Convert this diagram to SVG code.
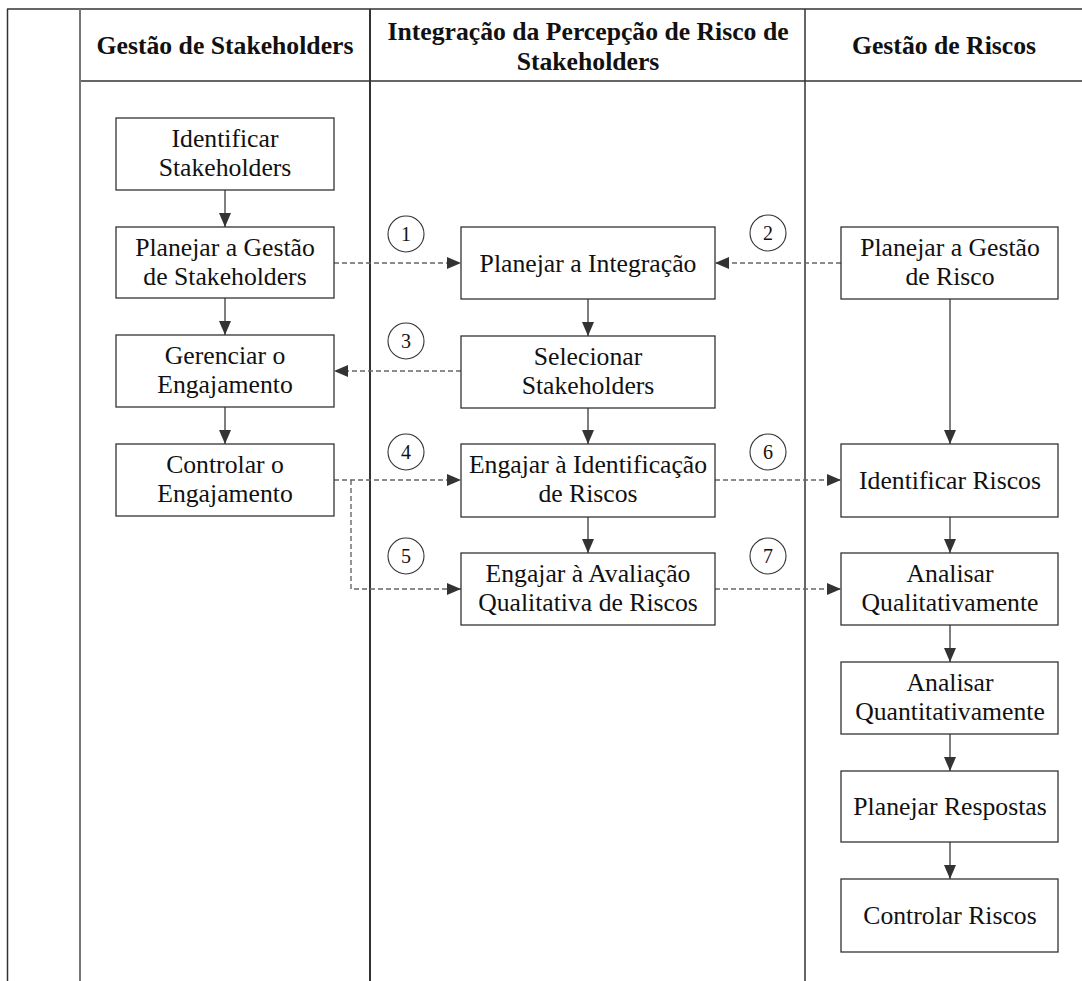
<svg xmlns="http://www.w3.org/2000/svg" width="1082" height="981" viewBox="0 0 1082 981">
<defs>
<marker id="ah" viewBox="0 0 14 12" refX="14" refY="6" markerWidth="14" markerHeight="12" markerUnits="userSpaceOnUse" orient="auto"><path d="M0,0 L14,6 L0,12 z" fill="#333"/></marker>
<style>
.box{fill:#fff;stroke:#333;stroke-width:1.3}
.t{font-family:'Times New Roman','Liberation Serif','DejaVu Serif',serif;font-size:25.7px;fill:#111;text-anchor:middle}
.h{font-family:'Times New Roman','Liberation Serif','DejaVu Serif',serif;font-size:25.7px;font-weight:bold;fill:#111;text-anchor:middle}
.n{font-family:'Times New Roman','Liberation Serif','DejaVu Serif',serif;font-size:20px;fill:#111;text-anchor:middle}
.c{fill:#fff;stroke:#333;stroke-width:1.1}
.solid{fill:none;stroke:#555;stroke-width:1.5}
.dash{fill:none;stroke:#666;stroke-width:1.4;stroke-dasharray:5,3}
</style>
</defs>
<rect width="1082" height="981" fill="#fff"/>
<g id="lanes">
<line x1="7" y1="9" x2="1082" y2="9" stroke="#333" stroke-width="1.5"/>
<line x1="80" y1="81" x2="1082" y2="81" stroke="#333" stroke-width="1.3"/>
<line x1="7.5" y1="9" x2="7.5" y2="981" stroke="#333" stroke-width="1.5"/>
<line x1="80" y1="9" x2="80" y2="981" stroke="#777" stroke-width="2"/>
<line x1="370" y1="9" x2="370" y2="981" stroke="#333" stroke-width="2"/>
<line x1="805" y1="9" x2="805" y2="981" stroke="#333" stroke-width="1.5"/>
<text class="h" x="225" y="54">Gestão de Stakeholders</text>
<text class="h" x="588" y="40">Integração da Percepção de Risco de</text>
<text class="h" x="588" y="70">Stakeholders</text>
<text class="h" x="944" y="54">Gestão de Riscos</text>
</g>
<g id="connectors">
<line class="solid" x1="225" y1="190" x2="225" y2="227" marker-end="url(#ah)"/>
<line class="solid" x1="225" y1="298" x2="225" y2="335" marker-end="url(#ah)"/>
<line class="solid" x1="225" y1="407" x2="225" y2="444" marker-end="url(#ah)"/>
<line class="solid" x1="588" y1="299" x2="588" y2="336" marker-end="url(#ah)"/>
<line class="solid" x1="588" y1="408" x2="588" y2="444" marker-end="url(#ah)"/>
<line class="solid" x1="588" y1="517" x2="588" y2="553" marker-end="url(#ah)"/>
<line class="solid" x1="950" y1="299" x2="950" y2="444" marker-end="url(#ah)"/>
<line class="solid" x1="950" y1="517" x2="950" y2="553" marker-end="url(#ah)"/>
<line class="solid" x1="950" y1="625" x2="950" y2="662" marker-end="url(#ah)"/>
<line class="solid" x1="950" y1="734" x2="950" y2="771" marker-end="url(#ah)"/>
<line class="solid" x1="950" y1="842" x2="950" y2="879" marker-end="url(#ah)"/>
<line class="dash" x1="334" y1="263" x2="461" y2="263" marker-end="url(#ah)"/>
<line class="dash" x1="841" y1="263" x2="715" y2="263" marker-end="url(#ah)"/>
<line class="dash" x1="461" y1="371" x2="334" y2="371" marker-end="url(#ah)"/>
<line class="dash" x1="334" y1="480" x2="461" y2="480" marker-end="url(#ah)"/>
<polyline class="dash" points="351,480 351,589 461,589" marker-end="url(#ah)"/>
<line class="dash" x1="715" y1="480" x2="841" y2="480" marker-end="url(#ah)"/>
<line class="dash" x1="715" y1="589" x2="841" y2="589" marker-end="url(#ah)"/>
<g id="labels">
<circle class="c" cx="406" cy="234" r="18"/><text class="n" x="406" y="241">1</text>
<circle class="c" cx="768" cy="233" r="18"/><text class="n" x="768" y="240">2</text>
<circle class="c" cx="406" cy="341" r="18"/><text class="n" x="406" y="348">3</text>
<circle class="c" cx="406" cy="452" r="18"/><text class="n" x="406" y="459">4</text>
<circle class="c" cx="406" cy="556" r="18"/><text class="n" x="406" y="563">5</text>
<circle class="c" cx="768" cy="452" r="18"/><text class="n" x="768" y="459">6</text>
<circle class="c" cx="768" cy="556" r="18"/><text class="n" x="768" y="563">7</text>
</g>
</g>
<g id="n1"><rect class="box" x="116" y="118" width="218" height="72"/><text class="t" x="225" y="147">Identificar</text><text class="t" x="225" y="176">Stakeholders</text></g>
<g id="n2"><rect class="box" x="116" y="227" width="218" height="71"/><text class="t" x="225" y="256">Planejar a Gestão</text><text class="t" x="225" y="285">de Stakeholders</text></g>
<g id="n3"><rect class="box" x="116" y="335" width="218" height="72"/><text class="t" x="225" y="364">Gerenciar o</text><text class="t" x="225" y="393">Engajamento</text></g>
<g id="n4"><rect class="box" x="116" y="444" width="218" height="72"/><text class="t" x="225" y="473">Controlar o</text><text class="t" x="225" y="502">Engajamento</text></g>
<g id="m1"><rect class="box" x="461" y="227" width="254" height="72"/><text class="t" x="588" y="272">Planejar a Integração</text></g>
<g id="m2"><rect class="box" x="461" y="336" width="254" height="72"/><text class="t" x="588" y="365">Selecionar</text><text class="t" x="588" y="394">Stakeholders</text></g>
<g id="m3"><rect class="box" x="461" y="444" width="254" height="73"/><text class="t" x="588" y="473">Engajar à Identificação</text><text class="t" x="588" y="502">de Riscos</text></g>
<g id="m4"><rect class="box" x="461" y="553" width="254" height="72"/><text class="t" x="588" y="582">Engajar à Avaliação</text><text class="t" x="588" y="611">Qualitativa de Riscos</text></g>
<g id="r1"><rect class="box" x="841" y="227" width="217" height="72"/><text class="t" x="950" y="256">Planejar a Gestão</text><text class="t" x="950" y="285">de Risco</text></g>
<g id="r2"><rect class="box" x="841" y="444" width="217" height="73"/><text class="t" x="950" y="489">Identificar Riscos</text></g>
<g id="r3"><rect class="box" x="841" y="553" width="217" height="72"/><text class="t" x="950" y="582">Analisar</text><text class="t" x="950" y="611">Qualitativamente</text></g>
<g id="r4"><rect class="box" x="841" y="662" width="217" height="72"/><text class="t" x="950" y="691">Analisar</text><text class="t" x="950" y="720">Quantitativamente</text></g>
<g id="r5"><rect class="box" x="841" y="771" width="217" height="71"/><text class="t" x="950" y="815">Planejar Respostas</text></g>
<g id="r6"><rect class="box" x="841" y="879" width="217" height="73"/><text class="t" x="950" y="924">Controlar Riscos</text></g>
</svg>
